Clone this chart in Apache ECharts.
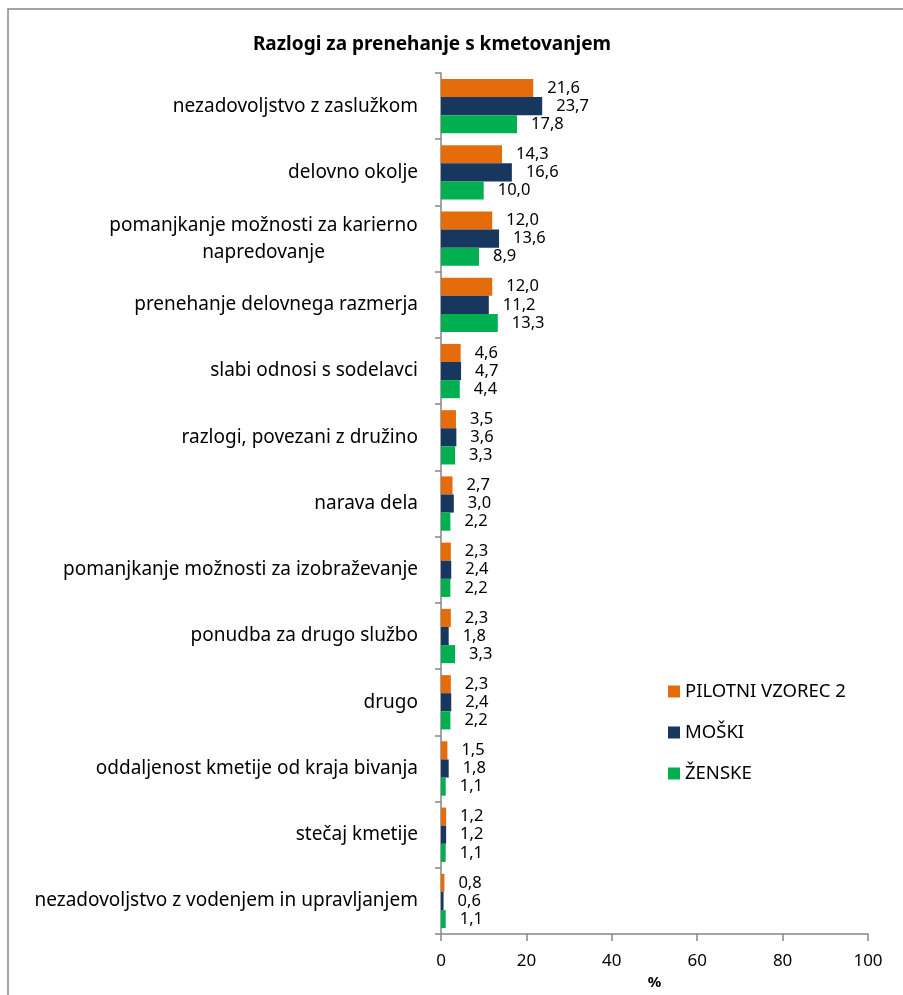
<!DOCTYPE html>
<html>
<head>
<meta charset="utf-8">
<script src="https://cdn.jsdelivr.net/npm/echarts@6/dist/echarts.min.js"></script>
<style>
html, body { margin: 0; padding: 0; background: #fff; }
#myChart { width: 903px; height: 995px; }
</style>
</head>
<body>
<div id="myChart"></div>
<script>
// podatki
let categories = [
    'nezadovoljstvo z zaslužkom',
    'delovno okolje',
    'pomanjkanje možnosti za karierno napredovanje',
    'prenehanje delovnega razmerja',
    'slabi odnosi s sodelavci',
    'razlogi, povezani z družino',
    'narava dela',
    'pomanjkanje možnosti za izobraževanje',
    'ponudba za drugo službo',
    'drugo',
    'oddaljenost kmetije od kraja bivanja',
    'stečaj kmetije',
    'nezadovoljstvo z vodenjem in upravljanjem'
]
let pilotni = [21.6, 14.3, 12.0, 12.0, 4.6, 3.5, 2.7, 2.3, 2.3, 2.3, 1.5, 1.2, 0.8]
let moski = [23.7, 16.6, 13.6, 11.2, 4.7, 3.6, 3.0, 2.4, 1.8, 2.4, 1.8, 1.2, 0.6]
let zenske = [17.8, 10.0, 8.9, 13.3, 4.4, 3.3, 2.2, 2.2, 3.3, 2.2, 1.1, 1.1, 1.1]
let xTicks = [0, 20, 40, 60, 80, 100]

let fontFam = 'Noto Sans'
let catSize = 19
let myChart = echarts.init(document.getElementById('myChart'))

// sirina prve vrstice za sredinsko poravnavo zavite oznake
let ctx = document.createElement('canvas').getContext('2d')
ctx.font = catSize + 'px "Noto Sans"'
let wrapLine1 = 'pomanjkanje možnosti za karierno'
let wrapW = Math.ceil(ctx.measureText(wrapLine1).width)

function valLabel(p) {
    return p.value.toFixed(1).replace('.', ',')
}

function makeSeries(name, data, color) {
    return {
        name: name,
        type: 'bar',
        data: data,
        barGap: '0%',
        barCategoryGap: '18%',
        itemStyle: { color: color },
        label: {
            show: true,
            position: 'right',
            distance: 14,
            formatter: valLabel,
            color: '#000',
            fontSize: 16.5,
            fontFamily: fontFam
        }
    }
}

let option = {
    animation: false,
    title: {
        text: 'Razlogi za prenehanje s kmetovanjem',
        left: 427,
        top: 30,
        textAlign: 'center',
        textStyle: { color: '#000', fontSize: 19, fontWeight: 'bold', fontFamily: fontFam }
    },
    legend: {
        orient: 'vertical',
        left: 663,
        top: 677,
        itemWidth: 12,
        itemHeight: 12,
        itemGap: 22,
        icon: 'rect',
        textStyle: { color: '#000', fontSize: 18.5, fontFamily: fontFam },
        data: ['PILOTNI VZOREC 2', 'MOŠKI', 'ŽENSKE']
    },
    grid: { left: 441, right: 35, top: 73, bottom: 54 },
    xAxis: {
        type: 'value',
        min: 0,
        max: 100,
        interval: 20,
        data: xTicks,
        name: '%',
        nameLocation: 'middle',
        nameGap: 38,
        nameTextStyle: { color: '#000', fontSize: 15, fontWeight: 'bold', fontFamily: fontFam },
        axisLine: { show: true, lineStyle: { color: '#868686', width: 1.5 } },
        axisTick: { show: true, length: 7, lineStyle: { color: '#868686', width: 1.5 } },
        axisLabel: { color: '#000', fontSize: 17, margin: 19, fontFamily: fontFam },
        splitLine: { show: false }
    },
    yAxis: {
        type: 'category',
        inverse: true,
        data: categories,
        axisLine: { show: true, lineStyle: { color: '#868686', width: 1.5 } },
        axisTick: { show: true, length: 6, lineStyle: { color: '#868686', width: 1.5 } },
        axisLabel: {
            color: '#000',
            fontSize: catSize,
            margin: 23,
            fontFamily: fontFam,
            formatter: function (v) {
                if (v === 'pomanjkanje možnosti za karierno napredovanje') {
                    return '{c|' + wrapLine1 + '}\n{c|napredovanje}'
                }
                return v
            },
            rich: {
                c: { width: wrapW, align: 'center', fontSize: catSize, lineHeight: 27, color: '#000', fontFamily: fontFam }
            }
        }
    },
    graphic: [
        {
            type: 'rect',
            shape: { x: 8, y: 9, width: 1000, height: 1100 },
            style: { fill: 'none', stroke: '#868686', lineWidth: 1.5 },
            silent: true
        }
    ],
    series: [
        makeSeries('PILOTNI VZOREC 2', pilotni, '#E46C0A'),
        makeSeries('MOŠKI', moski, '#17375E'),
        makeSeries('ŽENSKE', zenske, '#00B050')
    ]
}
myChart.setOption(option)
</script>
</body>
</html>
